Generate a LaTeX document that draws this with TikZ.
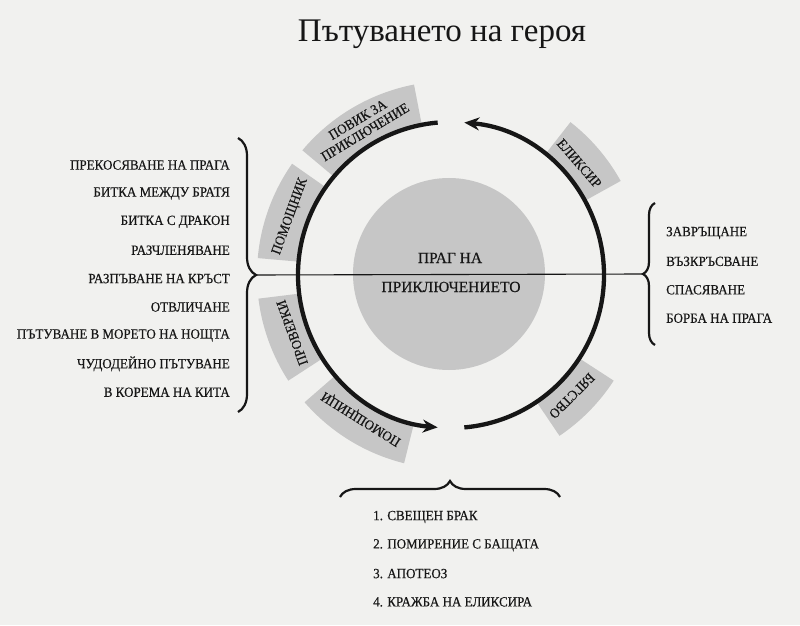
\documentclass[tikz,border=0pt]{standalone}
\usepackage{fontspec}
\setmainfont{Liberation Serif}
\newfontfamily\narrowserif[FakeStretch=0.93,FakeBold=0.35]{Liberation Serif}
\newfontfamily\plainserif[FakeBold=0.35]{Liberation Serif}
\usetikzlibrary{arrows.meta,decorations.pathreplacing,calc}
\definecolor{paper}{RGB}{241,241,239}
\definecolor{blockgray}{RGB}{198,198,198}
\definecolor{ink}{RGB}{22,22,22}
\tikzset{
  ring/.style={line width=4.3pt,color=ink},
  ringarrow/.style={ring,-{Stealth[length=15pt,width=13pt,inset=5pt]}},
  block/.style={fill=blockgray},
  blocklabel/.style={font=\narrowserif\fontsize{14}{14.5}\selectfont,text=ink,align=center,inner sep=0pt},
  listitem/.style={font=\narrowserif\fontsize{14}{16}\selectfont,text=ink,inner sep=0pt},
  disctext/.style={font=\plainserif\fontsize{15.5}{17}\selectfont,text=ink,inner sep=0pt},
  bracestyle/.style={decorate,line width=2.2pt,color=ink},
  divider/.style={line width=1.1pt,color=ink},
}
\newcommand{\sector}[2]{%
  \fill[block] ($(C)+(#1:152)$) arc[start angle=#1,end angle=#2,radius=152]
    -- ($(C)+(#2:194)$) arc[start angle=#2,end angle=#1,radius=194] -- cycle;}
\begin{document}
\begin{tikzpicture}[x=1pt,y=1pt]
\fill[paper] (0,0) rectangle (800,625);
\useasboundingbox (0,0) rectangle (800,625);
\coordinate (C) at (451,350);
% title
\node[font=\fontsize{33}{36}\selectfont,text=ink] (title) at (442,591) {Пътуването на героя};
% gray disc
\fill[blockgray] (449,351) circle[radius=96];
\node[disctext,anchor=base] (prag1) at (450,362) {ПРАГ НА};
\node[disctext,anchor=base] (prag2) at (451,333) {ПРИКЛЮЧЕНИЕТО};
% sectors
\sector{101}{140}
\sector{145}{175}
\sector{187}{213}
\sector{221}{256}
\sector{304}{327}
\sector{29}{52}
% sector labels
\node[blocklabel,rotate=31] (povik) at ($(C)+(121:174)$) {ПОВИК ЗА\\ПРИКЛЮЧЕНИЕ};
\node[blocklabel,rotate=70] (pomoshtnik) at ($(C)+(160:171)$) {ПОМОЩНИК};
\node[blocklabel,rotate=110] (proverki) at ($(C)+(200:169)$) {ПРОВЕРКИ};
\node[blocklabel,rotate=148] (pomoshtnici) at ($(C)+(238:169)$) {ПОМОЩНИЦИ};
\node[blocklabel,rotate=225] (bjagstvo) at ($(C)+(315:171)$) {БЯГСТВО};
\node[blocklabel,rotate=-49] (eliksir) at ($(C)+(41:170)$) {ЕЛИКСИР};
% ring arcs
\draw[ringarrow] ($(C)+(95:153)$) arc[start angle=95,end angle=265,radius=153];
\draw[ringarrow] ($(C)+(275:153)$) arc[start angle=275,end angle=445,radius=153];
% braces
\coordinate (Ltop) at (238,487);
\coordinate (Lbot) at (238,213);
\coordinate (Ltip) at (256,350);
\coordinate (Rbot) at (655,280);
\coordinate (Rtop) at (655,422);
\coordinate (Rtip) at (643,351);
\coordinate (Bl) at (340,128);
\coordinate (Br) at (560,128);
\draw[bracestyle,decoration={brace,amplitude=18pt}] (Ltop) -- (Lbot);
\draw[bracestyle,decoration={brace,amplitude=12pt}] (Rbot) -- (Rtop);
\draw[bracestyle,decoration={brace,amplitude=16pt}] (Bl) -- (Br);
\draw[divider] (Ltip) -- (Rtip);
% left list
\foreach \t [count=\i from 0] in {ПРЕКОСЯВАНЕ НА ПРАГА,БИТКА МЕЖДУ БРАТЯ,БИТКА С ДРАКОН,РАЗЧЛЕНЯВАНЕ,РАЗПЪВАНЕ НА КРЪСТ,ОТВЛИЧАНЕ,ПЪТУВАНЕ В МОРЕТО НА НОЩТА,ЧУДОДЕЙНО ПЪТУВАНЕ,В КОРЕМА НА КИТА}
  \node[listitem,anchor=east] (left\i) at (230,{460-28.4*\i}) {\t};
% right list
\foreach \t [count=\i from 0] in {ЗАВРЪЩАНЕ,ВЪЗКРЪСВАНЕ,СПАСЯВАНЕ,БОРБА НА ПРАГА}
  \node[listitem,anchor=west] (right\i) at (666,{392-28.4*\i}) {\t};
% bottom list
\foreach \t [count=\i from 0] in {1. СВЕЩЕН БРАК,2. ПОМИРЕНИЕ С БАЩАТА,3. АПОТЕОЗ,4. КРАЖБА НА ЕЛИКСИРА}
  \node[listitem,anchor=west] (bottom\i) at (373,{108-28.3*\i}) {\t};
\end{tikzpicture}
\end{document}
